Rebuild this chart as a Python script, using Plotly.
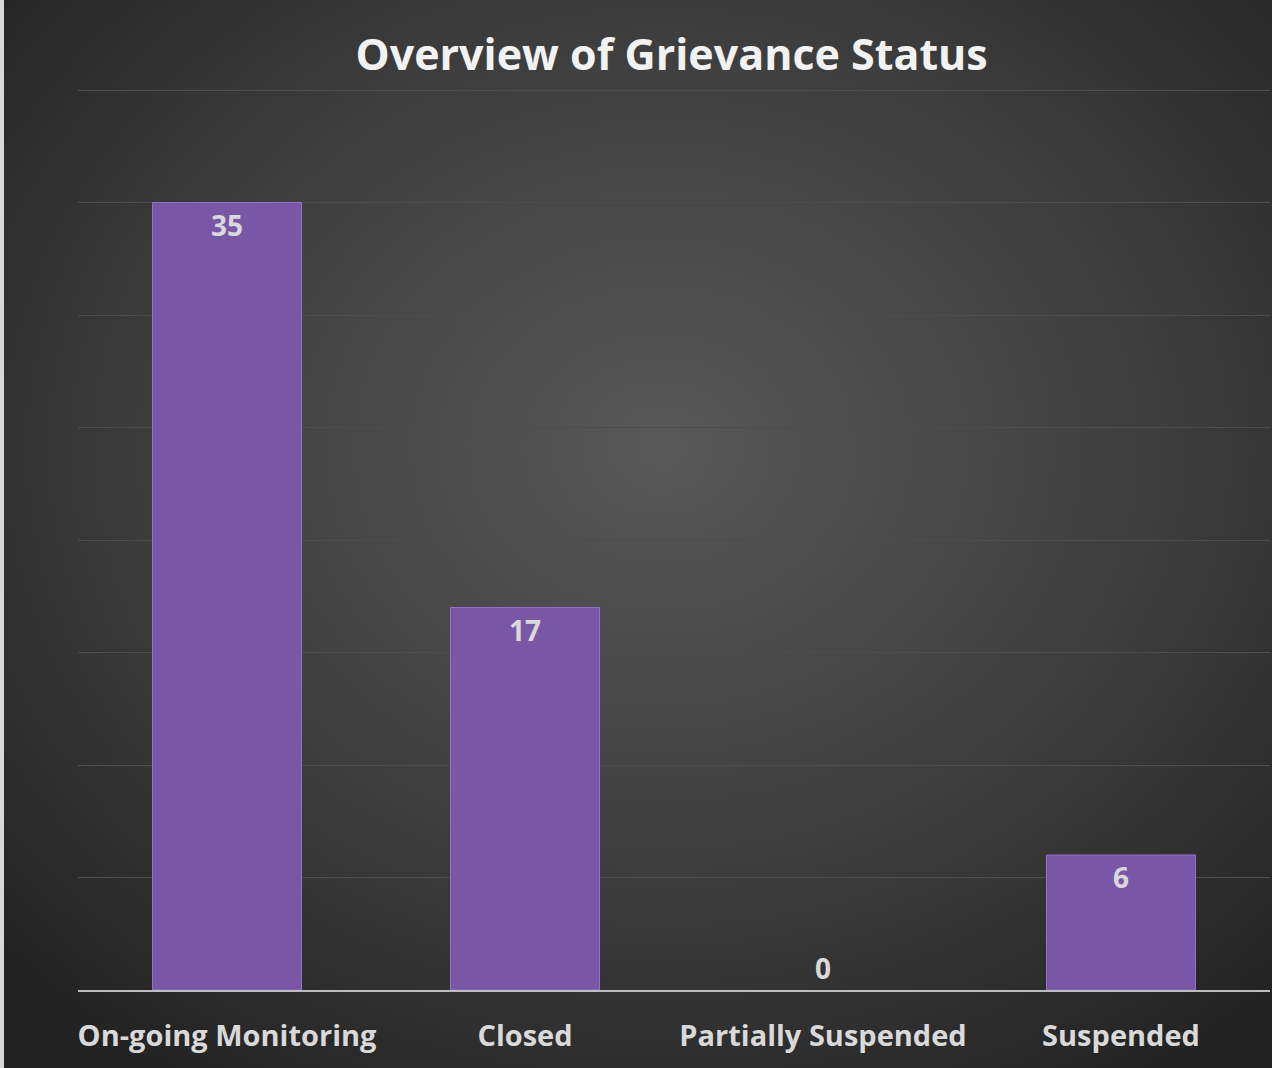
import base64
import plotly.graph_objects as go

categories = ["On-going Monitoring", "Closed", "Partially Suspended", "Suspended"]
values = [35, 17, 0, 6]
title_text = "Overview of Grievance Status"

svg = (
    '<svg xmlns="http://www.w3.org/2000/svg" width="1272" height="1068" viewBox="0 0 1272 1068" preserveAspectRatio="none">'
    '<defs><radialGradient id="g" cx="52%" cy="42%" r="70%">'
    '<stop offset="0%" stop-color="#585858"/>'
    '<stop offset="55%" stop-color="#3e3e3e"/>'
    '<stop offset="100%" stop-color="#232323"/>'
    '</radialGradient></defs>'
    '<rect width="1272" height="1068" fill="url(#g)"/>'
    '<rect x="0" y="0" width="4" height="1068" fill="#d8d8d8"/>'
    '</svg>'
)
bg_src = "data:image/svg+xml;base64," + base64.b64encode(svg.encode()).decode()

W, H = 1272, 1068
ml, mr, mt, mb = 78, 2, 88, 78
pw, ph = W - ml - mr, H - mt - mb

positions = ["outside" if v == 0 else "inside" for v in values]
line_widths = [0 if v == 0 else 1 for v in values]

label_font = dict(family="Open Sans", size=28, color="#d9d9d9", weight="bold")

fig = go.Figure(
    go.Bar(
        x=categories,
        y=values,
        text=[str(v) for v in values],
        textposition=positions,
        insidetextanchor="end",
        textangle=0,
        cliponaxis=False,
        textfont=label_font,
        outsidetextfont=label_font,
        insidetextfont=label_font,
        marker=dict(color="#7a57a6", line=dict(color="#9272c8", width=line_widths)),
        hoverinfo="skip",
    )
)

fig.update_layout(
    width=W,
    height=H,
    margin=dict(l=ml, r=mr, t=mt, b=mb),
    paper_bgcolor="#2e2e2e",
    plot_bgcolor="rgba(0,0,0,0)",
    bargap=0.5,
    showlegend=False,
    title=dict(
        text=title_text,
        x=0.528,
        xanchor="center",
        y=1 - 55 / H,
        yanchor="middle",
        font=dict(family="Open Sans", size=43, color="#f2f2f2", weight="bold"),
    ),
    images=[
        dict(
            source=bg_src,
            xref="paper",
            yref="paper",
            x=-ml / pw,
            y=1 + mt / ph,
            sizex=W / pw,
            sizey=H / ph,
            xanchor="left",
            yanchor="top",
            sizing="stretch",
            layer="below",
        )
    ],
    xaxis=dict(
        showgrid=False,
        showline=True,
        linecolor="#bdbdbd",
        linewidth=1.5,
        ticks="",
        tickfont=dict(family="Open Sans", size=29, color="#d9d9d9", weight="bold"),
        ticklabelstandoff=19,
    ),
    yaxis=dict(
        range=[0, 40.09],
        tick0=0,
        dtick=5,
        showgrid=True,
        gridcolor="#4d4d4d",
        gridwidth=1,
        zeroline=False,
        showticklabels=False,
        ticks="",
    ),
)

fig.write_html(
    "out.html",
    config={"displayModeBar": False},
    post_script="document.body.style.margin='0';document.body.style.overflow='hidden';",
)
